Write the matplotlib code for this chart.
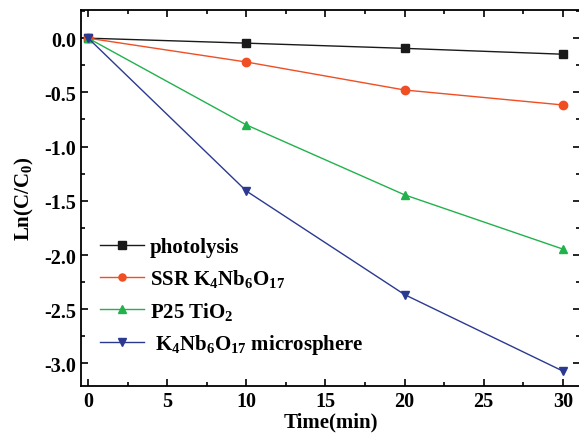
import numpy as np
import matplotlib.pyplot as plt

plt.rcParams['font.family'] = 'Liberation Serif'
plt.rcParams['font.weight'] = 'bold'
plt.rcParams['mathtext.fontset'] = 'custom'
plt.rcParams['mathtext.rm'] = 'Liberation Serif:bold'
plt.rcParams['mathtext.it'] = 'Liberation Serif:bold'
plt.rcParams['mathtext.bf'] = 'Liberation Serif:bold'

time = [0, 10, 20, 30]
photolysis = [0, -0.046, -0.094, -0.148]
ssr = [0, -0.22, -0.478, -0.616]
p25 = [0, -0.80, -1.445, -1.945]
micro = [0, -1.41, -2.365, -3.07]

labels = ['photolysis', r'SSR K$_4$Nb$_6$O$_{17}$', r'P25 TiO$_2$',
          r' K$_4$Nb$_6$O$_{17}$ microsphere']
colors = ['#1a1a1a', '#f04e23', '#22b14c', '#2b3990']
markers = ['s', 'o', '^', 'v']

fig = plt.figure(figsize=(5.79, 4.39), dpi=100)
ax = fig.add_axes([0.140, 0.118, 0.862, 0.857])

for y, lab, c, m in zip([photolysis, ssr, p25, micro], labels, colors, markers):
    ax.plot(time, y, color=c, marker=m, markersize=6, linewidth=1, label=lab)

ax.set_xlim(-0.45, 31.1)
ax.set_ylim(-3.21, 0.26)
ax.set_xticks(np.arange(0, 31, 5))
ax.set_xticks(np.arange(0, 31, 2.5), minor=True)
ax.set_yticks(np.arange(-3.0, 0.01, 0.5))
ax.set_yticks(np.arange(-3.0, 0.26, 0.25), minor=True)
ax.set_yticklabels(['%.1f' % v for v in np.arange(-3.0, 0.01, 0.5)])
ax.tick_params(which='both', direction='in', top=True, right=True, labelsize=14.5, width=1.2)
ax.tick_params(which='major', length=5)
ax.tick_params(which='minor', length=3)
for s in ax.spines.values():
    s.set_linewidth(1.3)

ax.set_xlabel('Time(min)', fontsize=15, fontweight='bold', labelpad=0)
ax.set_ylabel(r'Ln(C/C$_0$)', fontsize=15, fontweight='bold', labelpad=6)

ax.legend(loc='lower left', bbox_to_anchor=(0.0, 0.03), frameon=False, fontsize=15,
          handlelength=2.1, handletextpad=0.3, labelspacing=0.5, markerscale=0.85)

plt.savefig('out.png', dpi=100)
